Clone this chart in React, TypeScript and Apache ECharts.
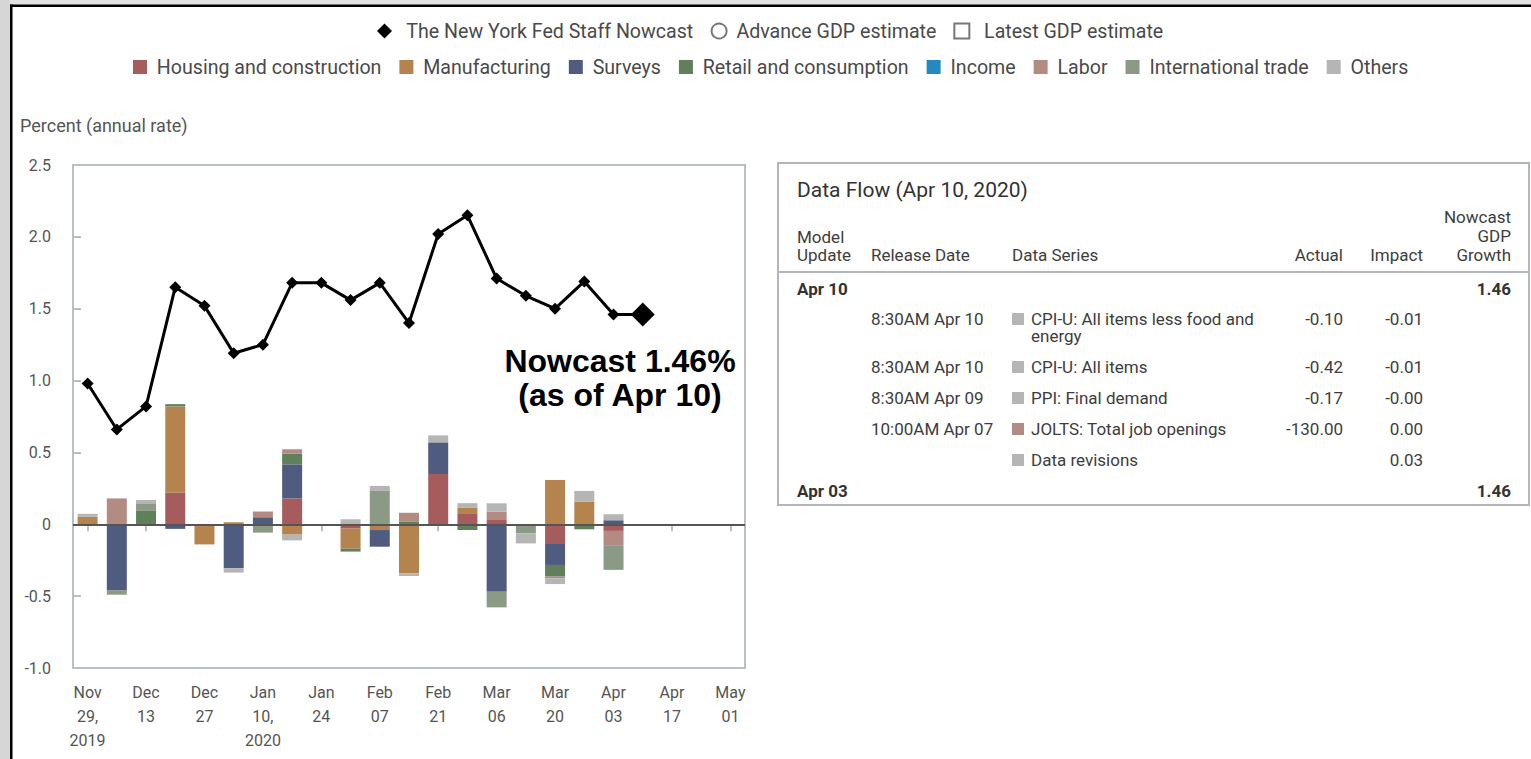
import React, { useEffect, useRef } from "react";
import * as echarts from "echarts";

// ---- data ----
const weeks = [
  "Nov 29, 2019", "Dec 06", "Dec 13", "Dec 20", "Dec 27", "Jan 03", "Jan 10, 2020", "Jan 17",
  "Jan 24", "Jan 31", "Feb 07", "Feb 14", "Feb 21", "Feb 28", "Mar 06", "Mar 13", "Mar 20",
  "Mar 27", "Apr 03", "Apr 10", "Apr 17", "Apr 24", "May 01",
];
const nowcast = [
  0.98, 0.66, 0.82, 1.65, 1.52, 1.19, 1.25, 1.68, 1.68, 1.56, 1.68, 1.4, 2.02, 2.15, 1.71, 1.59,
  1.5, 1.69, 1.46, 1.46, null, null, null,
];
const housing = [0, -0.01, 0, 0.22, 0, 0, 0, 0.18, 0, -0.03, 0, 0, 0.35, 0.077, 0.03, 0, -0.137, 0, -0.046, 0];
const manufacturing = [0.053, 0, 0, 0.6, -0.14, 0.014, 0, -0.072, 0, -0.14, -0.04, -0.34, 0, 0.04, 0, 0, 0.309, 0.158, 0, 0];
const surveys = [0, -0.45, 0, -0.032, 0, -0.306, 0.049, 0.237, 0, 0, -0.116, 0, 0.22, 0, -0.469, 0, -0.146, 0, 0.028, 0];
const retail = [0, 0, 0.093, 0.016, 0, 0, 0, 0.075, 0, -0.02, 0, 0.02, 0, -0.04, 0, 0, -0.081, -0.035, 0, 0];
const income = [-0.01, 0, 0, 0, 0, 0, 0, 0, 0, 0, 0, 0, 0, 0, 0, 0, 0, 0, 0, 0];
const labor = [0, 0.18, 0, 0, 0, 0, 0.04, 0.03, 0, 0, 0, 0.06, 0, 0, 0.058, 0, -0.012, 0, -0.104, 0];
const intlTrade = [0, -0.03, 0.053, 0, 0, 0, -0.058, 0, 0, 0, 0.232, 0, 0, 0, -0.109, -0.063, 0, 0, -0.167, 0];
const others = [0.02, 0, 0.023, 0, 0, -0.03, 0, -0.04, 0, 0.035, 0.035, -0.02, 0.049, 0.03, 0.058, -0.07, -0.04, 0.074, 0.042, 0];

const barNames = [
  "Housing and construction", "Manufacturing", "Surveys", "Retail and consumption",
  "Income", "Labor", "International trade", "Others",
];
const barValues = [housing, manufacturing, surveys, retail, income, labor, intlTrade, others];
const barColors = ["#a65c5c", "#b5834e", "#4f5c80", "#5f8058", "#2389c0", "#b38b83", "#8b9a85", "#b5b5b5"];

const yTicks = { min: -1, max: 2.5, interval: 0.5 };

// table data
const tableTitle = "Data Flow (Apr 10, 2020)";
const updates = ["Apr 10", "Apr 03"];
const updateGrowth = ["1.46", "1.46"];
const releaseTimes = ["8:30AM Apr 10", "8:30AM Apr 10", "8:30AM Apr 09", "10:00AM Apr 07", ""];
const releaseSeries = [
  "CPI-U: All items less food and\nenergy", "CPI-U: All items", "PPI: Final demand",
  "JOLTS: Total job openings", "Data revisions",
];
const releaseCategory = ["Others", "Others", "Others", "Labor", "Others"];
const actualValues = ["-0.10", "-0.42", "-0.17", "-130.00", ""];
const impactValues = ["-0.01", "-0.01", "-0.00", "0.00", "0.03"];

const FONT = "Roboto, 'Noto Sans', sans-serif";

export default function App() {
  const ref = useRef<HTMLDivElement>(null);
  useEffect(() => {
    if (!ref.current) return;
    const chart = echarts.init(ref.current, null, { renderer: "svg" });

    const txtColor = "#3d3d3d";
    const t = (text: string, x: number, y: number, opts: any = {}) => ({
      type: "text",
      x,
      y,
      silent: true,
      style: {
        text,
        fill: opts.fill || txtColor,
        font: opts.font || `17px ${FONT}`,
        align: opts.align || "left",
        verticalAlign: opts.verticalAlign || "middle",
        lineHeight: opts.lineHeight,
      },
    });

    const rowY = [319, 367, 398, 429, 460];
    const tableEls: any[] = [];
    tableEls.push({
      type: "rect",
      shape: { x: 778, y: 163, width: 751, height: 342 },
      style: { fill: "none", stroke: "#b0b6bb", lineWidth: 2 },
      silent: true,
    });
    tableEls.push({
      type: "rect",
      shape: { x: 778, y: 271, width: 751, height: 2 },
      style: { fill: "#b0b6bb" },
      silent: true,
    });
    tableEls.push(t(tableTitle, 797, 190, { font: `21px ${FONT}`, fill: "#333" }));
    tableEls.push(t("Model\nUpdate", 797, 228, { verticalAlign: "top", lineHeight: 18 }));
    tableEls.push(t("Release Date", 871, 255));
    tableEls.push(t("Data Series", 1012, 255));
    tableEls.push(t("Actual", 1343, 255, { align: "right" }));
    tableEls.push(t("Impact", 1423, 255, { align: "right" }));
    tableEls.push(t("Nowcast\nGDP\nGrowth", 1511, 207.5, { align: "right", verticalAlign: "top", lineHeight: 19 }));
    tableEls.push(t(updates[0], 797, 289, { font: `bold 17px ${FONT}`, fill: "#333" }));
    tableEls.push(t(updateGrowth[0], 1511, 289, { font: `bold 17px ${FONT}`, fill: "#333", align: "right" }));
    releaseSeries.forEach((s, i) => {
      const y = rowY[i];
      if (releaseTimes[i]) tableEls.push(t(releaseTimes[i], 871, y));
      tableEls.push({
        type: "rect",
        shape: { x: 1012, y: y - 6, width: 12, height: 12 },
        style: { fill: barColors[barNames.indexOf(releaseCategory[i])] },
        silent: true,
      });
      const multi = s.indexOf("\n") >= 0;
      tableEls.push(
        multi
          ? t(s, 1031, y - 9, { verticalAlign: "top", lineHeight: 17 })
          : t(s, 1031, y)
      );
      if (actualValues[i]) tableEls.push(t(actualValues[i], 1343, y, { align: "right" }));
      tableEls.push(t(impactValues[i], 1423, y, { align: "right" }));
    });
    tableEls.push(t(updates[1], 797, 491, { font: `bold 17px ${FONT}`, fill: "#333" }));
    tableEls.push(t(updateGrowth[1], 1511, 491, { font: `bold 17px ${FONT}`, fill: "#333", align: "right" }));

    const lastIdx = nowcast.reduce((acc: number, v, i) => (v != null ? i : acc), 0);
    const lastVal = nowcast[lastIdx] as number;
    const lastWeek = weeks[lastIdx];

    const frameEls: any[] = [
      { type: "rect", shape: { x: 0, y: 0, width: 1531, height: 5 }, style: { fill: "#e2e2e2" }, silent: true },
      { type: "rect", shape: { x: 0, y: 0, width: 10, height: 759 }, style: { fill: "#d6d6d6" }, silent: true },
      { type: "rect", shape: { x: 10, y: 4.5, width: 1521, height: 2.5 }, style: { fill: "#000" }, silent: true },
      { type: "rect", shape: { x: 10, y: 4.5, width: 2.5, height: 755 }, style: { fill: "#000" }, silent: true },
    ];

    const nowcastData = nowcast.map((v, i) =>
      i === lastIdx ? { value: v, symbolSize: 24 } : v
    );

    chart.setOption({
      animation: false,
      backgroundColor: "#ffffff",
      textStyle: { fontFamily: FONT },
      legend: [
        {
          left: 377,
          top: 21,
          padding: 0,
          itemGap: 17,
          itemWidth: 15,
          itemHeight: 15,
          textStyle: { fontSize: 19.6, color: "#4a4a4a", fontFamily: FONT },
          formatter: (n: string) => (n === "Advance GDP estimate" ? " " : "  ") + n,
          data: [
            { name: "The New York Fed Staff Nowcast", icon: "diamond", itemStyle: { color: "#000" } },
            { name: "Advance GDP estimate", icon: "circle", itemStyle: { color: "#fff", borderColor: "#555", borderWidth: 2 } },
            { name: "Latest GDP estimate", icon: "rect", itemStyle: { color: "#fff", borderColor: "#555", borderWidth: 2 } },
          ],
        },
        {
          left: 133,
          top: 57,
          padding: 0,
          itemGap: 18,
          itemWidth: 14,
          itemHeight: 14,
          icon: "rect",
          textStyle: { fontSize: 19.6, color: "#4a4a4a", fontFamily: FONT },
          formatter: (n: string) => " " + n,
          data: barNames,
        },
      ],
      grid: {
        left: 73,
        top: 165,
        width: 672,
        height: 503,
        show: true,
        borderColor: "#b8bfc5",
        borderWidth: 2,
        containLabel: false,
      },
      xAxis: {
        type: "category",
        data: weeks,
        boundaryGap: true,
        axisLine: { show: false },
        axisTick: {
          show: true,
          interval: 1,
          alignWithLabel: true,
          length: 7,
          lineStyle: { color: "#b8bfc5", width: 2 },
        },
        axisLabel: {
          interval: 1,
          margin: 12,
          color: "#555",
          fontSize: 16,
          lineHeight: 24,
          fontFamily: FONT,
          formatter: (v: string) => v.replace(" ", "\n").replace(", ", ",\n"),
        },
        splitLine: { show: false },
      },
      yAxis: {
        type: "value",
        min: yTicks.min,
        max: yTicks.max,
        interval: yTicks.interval,
        axisLine: { show: false },
        axisTick: { show: true, inside: true, length: 8, lineStyle: { color: "#b8bfc5", width: 2 } },
        axisLabel: {
          margin: 22,
          color: "#555",
          fontSize: 16,
          fontFamily: FONT,
          formatter: (v: number) => (v === 0 ? "0" : v.toFixed(1)),
        },
        splitLine: { show: false },
      },
      graphic: [
        ...frameEls,
        {
          type: "text",
          x: 20,
          y: 125,
          silent: true,
          style: { text: "Percent (annual rate)", fill: "#555", font: `18px ${FONT}`, verticalAlign: "middle" },
        },
        {
          type: "text",
          x: 620,
          y: 344,
          silent: true,
          z: 10,
          style: {
            text: `Nowcast ${lastVal.toFixed(2)}%\n(as of ${lastWeek})`,
            fill: "#000",
            font: "bold 32px 'Liberation Sans', Arial, sans-serif",
            align: "center",
            verticalAlign: "top",
            lineHeight: 34,
          },
        },
        ...tableEls,
      ],
      series: [
        ...barNames.map((name, i) => ({
          name,
          type: "bar",
          stack: "contrib",
          barWidth: 20,
          itemStyle: { color: barColors[i] },
          data: barValues[i],
        })),
        {
          name: "The New York Fed Staff Nowcast",
          type: "line",
          z: 5,
          data: nowcastData,
          symbol: "diamond",
          symbolSize: 12,
          showAllSymbol: true,
          lineStyle: { color: "#000", width: 3 },
          itemStyle: { color: "#000" },
          markLine: {
            silent: true,
            symbol: "none",
            label: { show: false },
            lineStyle: { color: "#555", width: 2, type: "solid" },
            data: [{ yAxis: 0 }],
          },
        },
        {
          name: "Advance GDP estimate",
          type: "scatter",
          data: [],
          symbol: "circle",
          itemStyle: { color: "#fff", borderColor: "#555", borderWidth: 2 },
        },
        {
          name: "Latest GDP estimate",
          type: "scatter",
          data: [],
          symbol: "rect",
          itemStyle: { color: "#fff", borderColor: "#555", borderWidth: 2 },
        },
      ],
    });
    return () => chart.dispose();
  }, []);
  return (
    <div
      ref={ref}
      style={{ position: "fixed", left: 0, top: 0, width: 1531, height: 759 }}
    />
  );
}
